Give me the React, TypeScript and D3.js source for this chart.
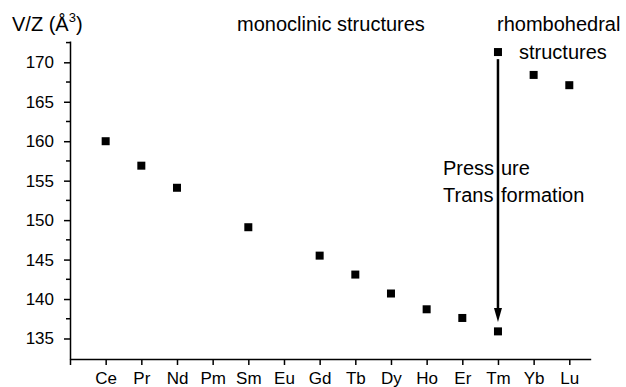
import { useEffect, useRef } from "react";
import * as d3 from "d3";

// lanthanide series on the x axis (index 0 is the empty start of the axis)
const elements = ["Ce", "Pr", "Nd", "Pm", "Sm", "Eu", "Gd", "Tb", "Dy", "Ho", "Er", "Tm", "Yb", "Lu"];
// V/Z in Å^3, null where there is no point
const monoclinic = [160.0, 156.9, 154.1, null, 149.1, null, 145.5, 143.1, 140.7, 138.7, 137.6, 135.9, null, null];
const rhombohedral = [null, null, null, null, null, null, null, null, null, null, null, 171.3, 168.4, 167.1];
const yTicks = [135, 140, 145, 150, 155, 160, 165, 170];
const yMinorTicks = [137.5, 142.5, 147.5, 152.5, 157.5, 162.5, 167.5, 172.5];
// pressure arrow at Tm, from / to (V/Z)
const arrowElement = "Tm";
const arrowFrom = 170.4;
const arrowTo = 137.1;

const W = 626;
const H = 387;
const FONT = "'Liberation Sans', Arial, sans-serif";

export default function App() {
  const svgRef = useRef<SVGSVGElement>(null);

  useEffect(() => {
    const svg = d3.select(svgRef.current);
    svg.selectAll("*").remove();

    const x = d3.scaleLinear().domain([0, 14.6]).range([70, 590.7]);
    const y = d3.scaleLinear().domain([132.4, 172.7]).range([359, 41]);

    // x axis
    const xAxis = svg
      .append("g")
      .attr("transform", `translate(0,${y.range()[0]})`)
      .call(
        d3
          .axisBottom(x)
          .tickValues(d3.range(0, elements.length + 1))
          .tickFormat((d) => (+d === 0 ? "" : elements[+d - 1]))
          .tickSize(6)
          .tickPadding(7)
          .tickSizeOuter(0)
      );
    xAxis.selectAll("text").style("font-size", "17px");

    // y axis
    const yAxis = svg
      .append("g")
      .attr("transform", `translate(${x.range()[0]},0)`)
      .call(d3.axisLeft(y).tickValues(yTicks).tickSize(6).tickPadding(10).tickSizeOuter(0).tickFormat(d3.format("d")));
    yAxis.selectAll("text").style("font-size", "17px");
    yAxis
      .selectAll("line.minor")
      .data(yMinorTicks)
      .enter()
      .append("line")
      .attr("class", "minor")
      .attr("x1", -4)
      .attr("x2", 0)
      .attr("y1", (d) => y(d))
      .attr("y2", (d) => y(d))
      .attr("stroke", "#000");

    [xAxis, yAxis].forEach((g) => {
      g.attr("font-family", FONT);
      g.selectAll("text").attr("fill", "#000");
      g.selectAll("path, line").attr("stroke", "#000").attr("stroke-width", 1.5);
    });

    // annotations text (the arrow runs between the split words)
    const texts = [
      { t: "monoclinic structures", x: 237, y: 31 },
      { t: "rhombohedral", x: 497, y: 31 },
      { t: "structures", x: 519, y: 59 },
      { t: "Press", x: 443, y: 175 },
      { t: "ure", x: 501, y: 175 },
      { t: "Trans", x: 443, y: 202 },
      { t: "formation", x: 501, y: 202 },
    ];
    svg
      .append("g")
      .selectAll("text")
      .data(texts)
      .enter()
      .append("text")
      .attr("x", (d) => d.x)
      .attr("y", (d) => d.y)
      .attr("font-family", FONT)
      .attr("font-size", 20)
      .attr("fill", "#000")
      .text((d) => d.t);

    const yl = svg
      .append("text")
      .attr("x", 12)
      .attr("y", 31)
      .attr("font-family", FONT)
      .attr("font-size", 20)
      .attr("fill", "#000");
    yl.append("tspan").text("V/Z (Å");
    yl.append("tspan").attr("font-size", 13).attr("dy", -9).text("3");
    yl.append("tspan").attr("dy", 9).text(")");

    // arrow
    const ax = x(elements.indexOf(arrowElement) + 1);
    svg
      .append("line")
      .attr("x1", ax)
      .attr("x2", ax)
      .attr("y1", y(arrowFrom))
      .attr("y2", y(arrowTo) - 10)
      .attr("stroke", "#000")
      .attr("stroke-width", 2.5);
    svg
      .append("path")
      .attr("d", `M${ax - 4},${y(arrowTo) - 14} L${ax + 4},${y(arrowTo) - 14} L${ax},${y(arrowTo)} Z`)
      .attr("fill", "#000");

    // points
    const pts = [...monoclinic, ...rhombohedral]
      .map((v, i) => ({ v, i: (i % elements.length) + 1 }))
      .filter((d) => d.v !== null) as { v: number; i: number }[];
    svg
      .append("g")
      .selectAll("rect")
      .data(pts)
      .enter()
      .append("rect")
      .attr("x", (d) => x(d.i) - 4)
      .attr("y", (d) => y(d.v) - 4)
      .attr("width", 8)
      .attr("height", 8)
      .attr("fill", "#000");
  }, []);

  return (
    <svg
      ref={svgRef}
      width={W}
      height={H}
      style={{ position: "absolute", left: 0, top: 0, background: "#fff" }}
    />
  );
}
